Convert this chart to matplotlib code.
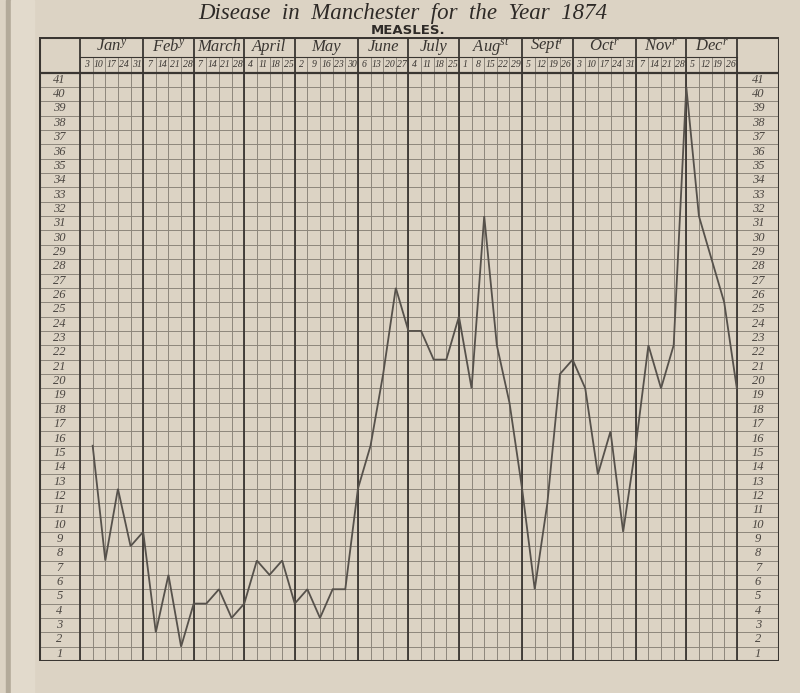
import matplotlib.pyplot as plt
from matplotlib.patches import Rectangle
import numpy as np

# Weekly deaths from measles, Manchester 1874
months = ['Jan$^{y}$', 'Feb$^{y}$', 'March', 'April', 'May', 'June',
          'July', 'Aug$^{st}$', 'Sept$^{r}$', 'Oct$^{r}$', 'Nov$^{r}$', 'Dec$^{r}$']
days = [
    [3, 10, 17, 24, 31], [7, 14, 21, 28], [7, 14, 21, 28], [4, 11, 18, 25],
    [2, 9, 16, 23, 30], [6, 13, 20, 27], [4, 11, 18, 25], [1, 8, 15, 22, 29],
    [5, 12, 19, 26], [3, 10, 17, 24, 31], [7, 14, 21, 28], [5, 12, 19, 26],
]
measles = [
    15, 7, 12, 8, 9,
    2, 6, 1, 4,
    4, 5, 3, 4,
    7, 6, 7, 4,
    5, 3, 5, 5, 12,
    15, 20, 26, 23,
    23, 21, 21, 24,
    19, 31, 22, 18, 12,
    5, 11, 20, 21,
    19, 13, 16, 9, 15,
    22, 19, 22, 40,
    31, 28, 25, 19,
]
levels = np.arange(1, 42)

paper = '#dcd3c4'
ink = '#3a3632'
faint = '#8d867b'
script = 'Liberation Serif'

plt.rcParams['mathtext.fontset'] = 'custom'
plt.rcParams['mathtext.rm'] = 'Liberation Serif:italic'
plt.rcParams['mathtext.it'] = 'Liberation Serif:italic'

fig = plt.figure(figsize=(8, 6.93), dpi=100, facecolor=paper)
# faint crease / binding shadow on the left
fig.add_artist(Rectangle((0.008, 0), 0.006, 1, transform=fig.transFigure,
                         color='#b3aa9a', zorder=0))
fig.add_artist(Rectangle((0.014, 0), 0.028, 1, transform=fig.transFigure,
                         color='#e2dacc', zorder=0))

ax = fig.add_axes([39 / 800, 32 / 693, 740 / 800, 624 / 693])
ax.set_facecolor(paper)
ax.set_xlim(-3.25, 55.34)
ax.set_ylim(0, 43.48)
ax.axis('off')

n_weeks = sum(len(d) for d in days)
bounds = np.concatenate([[0], np.cumsum([len(d) for d in days])])
x_left, x_right = -3.25, 55.34
y_grid, y_days, y_top = 41, 42.1, 43.48

# horizontal rules, running through the label columns
for v in range(0, 42):
    ax.plot([x_left, x_right], [v, v], color=faint, lw=0.7, zorder=1)
ax.plot([x_left, x_right], [y_grid, y_grid], color=ink, lw=1.6, zorder=2)
ax.plot([0, n_weeks], [y_days, y_days], color=ink, lw=0.8, zorder=2)

# week rules
for k in range(n_weeks + 1):
    ax.plot([k, k], [0, y_days], color=faint, lw=0.7, zorder=1)
# month rules
for b in bounds:
    ax.plot([b, b], [0, y_top], color=ink, lw=1.3, zorder=2)

# outer frame
ax.add_patch(Rectangle((x_left, 0), x_right - x_left, y_top, fill=False,
                       edgecolor=ink, lw=2.2, zorder=3))

# month and day headings
for i, m in enumerate(months):
    ax.text((bounds[i] + bounds[i + 1]) / 2, (y_days + y_top) / 2, m,
            ha='center', va='center', fontsize=12, family=script,
            style='italic', color=ink)
    for j, d in enumerate(days[i]):
        ax.text(bounds[i] + j + 0.5, (y_grid + y_days) / 2, str(d),
                ha='center', va='center', fontsize=7, family=script,
                style='italic', color=ink)

# row numbers on both sides
for v in levels:
    ax.text(x_left / 2, v - 0.5, str(v), ha='center', va='center',
            fontsize=9, family=script, style='italic', color='#4a4540')
    ax.text(n_weeks + (x_right - n_weeks) / 2, v - 0.5, str(v),
            ha='center', va='center', fontsize=9, family=script,
            style='italic', color='#4a4540')

# the weekly line
ax.plot(np.arange(1, n_weeks + 1), measles, color='#56514b', lw=1.3,
        zorder=4, solid_joinstyle='miter')

fig.text(0.503, 1 - 14 / 693, 'Disease  in  Manchester  for  the  Year  1874',
         ha='center', va='center', fontsize=16.5, family=script,
         style='italic', color='#2e2a27')
fig.text(0.51, 1 - 31 / 693, 'MEASLES.', ha='center', va='center',
         fontsize=9.5, family='DejaVu Sans', weight='bold', color='#2e2a27')

fig.savefig('out.png', dpi=100, facecolor=paper)
